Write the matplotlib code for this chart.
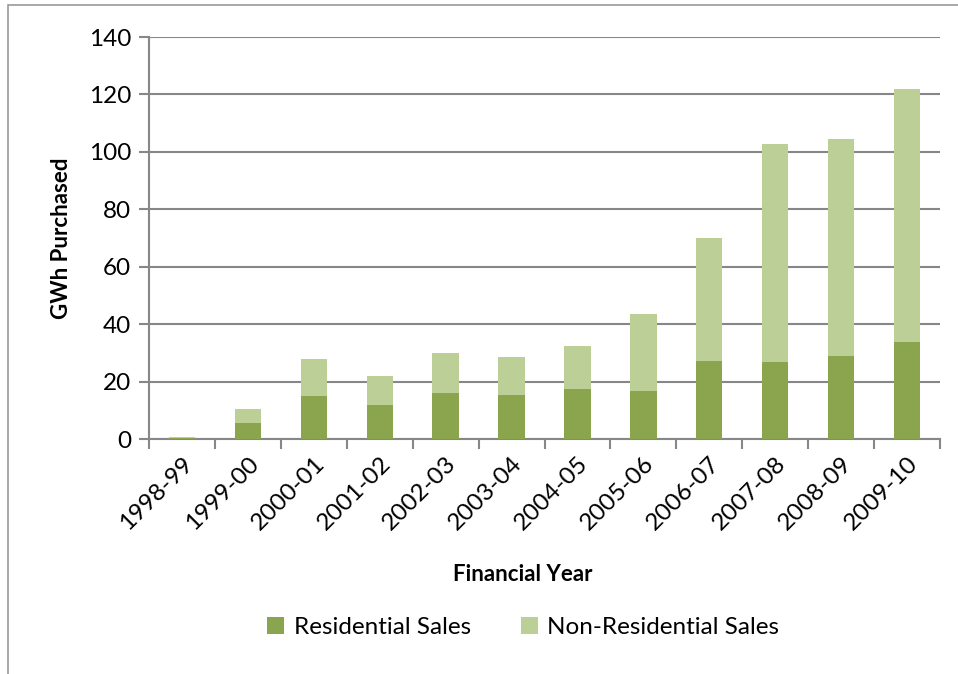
import matplotlib
matplotlib.use('Agg')
import matplotlib.pyplot as plt
import numpy as np
from matplotlib.patches import Rectangle

plt.rcParams['font.family'] = ['Lato', 'DejaVu Sans']

# ===== data =====
years = ['1998-99', '1999-00', '2000-01', '2001-02', '2002-03', '2003-04',
         '2004-05', '2005-06', '2006-07', '2007-08', '2008-09', '2009-10']
residential = [0.2, 5.6, 15.1, 11.9, 16.1, 15.4, 17.4, 16.7, 27.1, 26.7, 28.9, 33.8]
non_residential = [0.4, 4.8, 12.8, 10.1, 13.9, 13.3, 15.0, 26.8, 42.9, 76.0, 75.6, 88.1]

DARK = '#8AA54E'
LIGHT = '#BBCF97'
GRID = '#878787'

fig = plt.figure(figsize=(9.58, 6.74), dpi=100)
fig.patch.set_facecolor('white')
# chart border
fig.add_artist(Rectangle((8 / 958, -0.01), 1.0, 1 - 5 / 674 + 0.01, transform=fig.transFigure,
                         fill=False, edgecolor='#9A9A9A', linewidth=1.2))

ax = fig.add_axes([149 / 958, 1 - 439 / 674, (940 - 149) / 958, (439 - 37) / 674])
x = np.arange(len(years))
ax.bar(x, residential, width=0.4, color=DARK, label='Residential Sales', zorder=3)
ax.bar(x, non_residential, width=0.4, bottom=residential, color=LIGHT,
       label='Non-Residential Sales', zorder=3)

ax.set_xlim(-0.5, len(years) - 0.5)
ax.set_ylim(0, 140)
ax.set_yticks(range(0, 141, 20))
ax.yaxis.grid(True, color=GRID, linewidth=1.5, zorder=0)
ax.set_axisbelow(True)

ax.set_xticks(x)
ax.set_xticklabels(years, rotation=45, ha='right', rotation_mode='anchor', fontsize=17.5)
ax.tick_params(axis='x', which='major', length=0, pad=10)
ax.set_xticks(np.arange(-0.5, len(years), 1), minor=True)
ax.tick_params(axis='x', which='minor', length=7, width=1.5, color=GRID, direction='out')
ax.tick_params(axis='y', length=7, width=1.5, color=GRID, labelsize=17.5, pad=6)

for s in ['top', 'right']:
    ax.spines[s].set_visible(False)
for s in ['left', 'bottom']:
    ax.spines[s].set_color(GRID)
    ax.spines[s].set_linewidth(1.5)

ax.set_ylabel('GWh Purchased', fontsize=16, fontweight='bold')
ax.yaxis.set_label_coords(-0.097, 0.5)
ax.set_xlabel('Financial Year', fontsize=16, fontweight='bold')
ax.xaxis.set_label_coords(0.473, -0.311)

ax.legend(loc='center', bbox_to_anchor=(0.473, -0.47), ncol=2, frameon=False,
          fontsize=17.5, handlelength=0.7, handleheight=0.7, columnspacing=2.05,
          handletextpad=0.4)

fig.savefig('out.png', dpi=100, facecolor='white')
